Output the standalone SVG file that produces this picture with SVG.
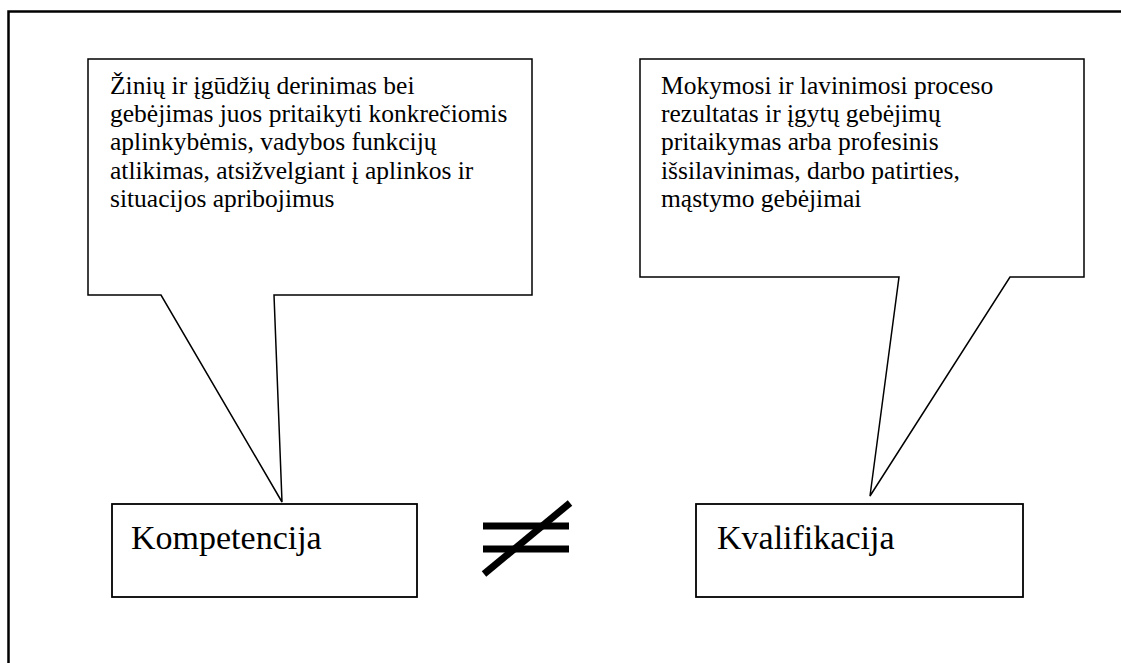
<svg xmlns="http://www.w3.org/2000/svg" width="1121" height="663" viewBox="0 0 1121 663">
  <style>
    .frame { fill: none; stroke: #000; stroke-width: 2.5; }
    .callout { fill: #fff; stroke: #000; stroke-width: 1.5; stroke-linejoin: miter; }
    .box { fill: #fff; stroke: #000; stroke-width: 1.8; }
    .note { font-family: "Liberation Serif", "Times New Roman", serif; font-size: 25.5px; fill: #000; }
    .term { font-family: "Liberation Serif", "Times New Roman", serif; font-size: 34px; fill: #000; }
    .neq { stroke: #000; stroke-width: 7; fill: none; }
  </style>

  <rect width="1121" height="663" fill="#fff"/>

  <!-- outer page frame, runs off the right and bottom edges -->
  <rect class="frame" x="8.5" y="11.5" width="1130" height="680"/>

  <!-- speech-bubble callouts pointing at the two terms -->
  <g id="connectors">
    <polygon id="callout-left" class="callout" points="88,59 532,59 532,295 274,295 282,502 161,295 88,295"/>
    <polygon id="callout-right" class="callout" points="640,59 1084,59 1084,277 1010,277 870,496 899,277 640,277"/>
  </g>

  <g id="note-competence">
    <text class="note" x="110" y="94">Žinių ir įgūdžių derinimas bei</text>
    <text class="note" x="110" y="122">gebėjimas juos pritaikyti konkrečiomis</text>
    <text class="note" x="110" y="150">aplinkybėmis, vadybos funkcijų</text>
    <text class="note" x="110" y="179">atlikimas, atsižvelgiant į aplinkos ir</text>
    <text class="note" x="110" y="207">situacijos apribojimus</text>
  </g>

  <g id="note-qualification">
    <text class="note" x="661" y="94">Mokymosi ir lavinimosi proceso</text>
    <text class="note" x="661" y="122">rezultatas ir įgytų gebėjimų</text>
    <text class="note" x="661" y="150">pritaikymas arba profesinis</text>
    <text class="note" x="661" y="179">išsilavinimas, darbo patirties,</text>
    <text class="note" x="661" y="207">mąstymo gebėjimai</text>
  </g>

  <g id="kompetencija">
    <rect class="box" x="112" y="504" width="305" height="93"/>
    <text class="term" x="131" y="549">Kompetencija</text>
  </g>

  <!-- not-equal sign between the two terms -->
  <g id="not-equal">
    <line class="neq" x1="483" y1="526" x2="569" y2="526"/>
    <line class="neq" x1="483" y1="549" x2="569" y2="549"/>
    <line class="neq" x1="484" y1="574" x2="570" y2="503"/>
  </g>

  <g id="kvalifikacija">
    <rect class="box" x="696" y="504" width="327" height="93"/>
    <text class="term" x="717" y="549">Kvalifikacija</text>
  </g>
</svg>
